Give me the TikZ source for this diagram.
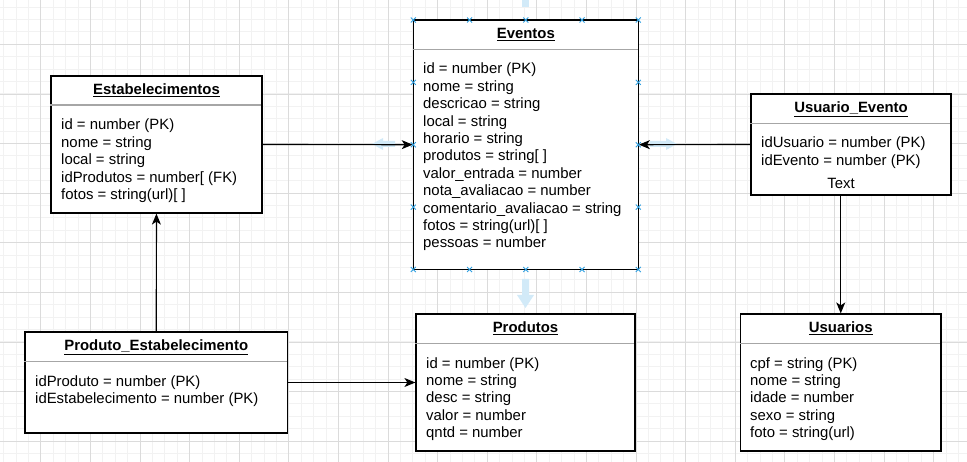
\documentclass[tikz,border=0pt]{standalone}
\usepackage{fontspec}
\setmainfont{Liberation Sans}
\usetikzlibrary{arrows.meta}
\definecolor{hintblue}{HTML}{D2EAF8}
\definecolor{handleblue}{HTML}{2F9FE0}

\begin{document}
\begin{tikzpicture}[
  x=1pt, y=-1pt,
  table/.style={rectangle, draw, fill=white, line width=1.2pt, inner sep=0pt},
  title/.style={anchor=base, inner sep=0pt, font=\fontsize{14.9}{17.4}\selectfont\bfseries},
  fields/.style={anchor=base west, align=left, inner sep=0pt, font=\fontsize{14.9}{17.4}\selectfont},
  sep/.style={draw=gray!70, line width=1.5pt},
  link/.style={-{Stealth[length=11pt,width=9pt,inset=3pt]}, line width=1.2pt},
  hint/.style={fill=hintblue, draw=none},
  handle/.style={draw=handleblue, line width=0.9pt}
]
\useasboundingbox (0,0) rectangle (967,462);

% Grid
\foreach \gx in {3.5,15.9,...,967} \draw[gray!10, line width=0.6pt] (\gx,0) -- (\gx,462);
\foreach \gy in {6.9,19.3,...,462} \draw[gray!10, line width=0.6pt] (0,\gy) -- (967,\gy);
\foreach \gx in {40.7,90.3,...,967} \draw[gray!28, line width=0.6pt] (\gx,0) -- (\gx,462);
\foreach \gy in {-5.3,44.3,...,462} \draw[gray!28, line width=0.6pt] (0,\gy) -- (967,\gy);

% Hover arrows
\fill[hint] (522,0) rectangle (529,7);
\fill[hint] (522,279) -- (529,279) -- (529,295) -- (534,295) -- (525.5,308) -- (517,295) -- (522,295) -- cycle;
\fill[hint] (395,141) -- (383,141) -- (383,138) -- (372,144) -- (383,150) -- (383,147) -- (395,147) -- cycle;
\fill[hint] (650,141) -- (666,141) -- (666,138) -- (677,144) -- (666,150) -- (666,147) -- (650,147) -- cycle;

% Eventos (fields placed at the baseline of their last line)
\node[table, minimum width=225pt, minimum height=249.5pt] (eventos) at (525.8,144.75) {};
\draw[sep] (eventos.north west) ++(0,30) -- ++(225,0);
\node[title] (eventos-title) at (525.8,38.7) {\underline{Eventos}};
\node[fields] (eventos-fields) at (423,248) {id = number (PK)\\nome = string\\descricao = string\\local = string\\horario = string\\produtos = string[ ]\\valor\_entrada = number\\nota\_avaliacao = number\\comentario\_avaliacao = string\\fotos = string(url)[ ]\\pessoas = number};

% Estabelecimentos
\node[table, minimum width=211pt, minimum height=137pt] (estab) at (156.5,144.5) {};
\draw[sep] (estab.north west) ++(0,29.7) -- ++(211,0);
\node[title] (estab-title) at (156.5,94.5) {\underline{Estabelecimentos}};
\node[fields] (estab-fields) at (61,199.6) {id = number (PK)\\nome = string\\local = string\\idProdutos = number[ (FK)\\fotos = string(url)[ ]};

% Usuario_Evento
\node[table, minimum width=200pt, minimum height=101pt] (usuarioevento) at (851,144.5) {};
\draw[sep] (usuarioevento.north west) ++(0,30) -- ++(200,0);
\node[title] (usuarioevento-title) at (851,112.7) {\underline{Usuario\_Evento}};
\node[fields] (usuarioevento-fields) at (761,165.4) {idUsuario = number (PK)\\idEvento = number (PK)};
\node[fields, anchor=base] (usuarioevento-text) at (841,189) {Text};

% Produto_Estabelecimento
\node[table, minimum width=262.5pt, minimum height=101pt] (prodestab) at (156.25,382.5) {};
\draw[sep] (prodestab.north west) ++(0,30) -- ++(262.5,0);
\node[title] (prodestab-title) at (156.25,350.7) {\underline{Produto\_Estabelecimento}};
\node[fields] (prodestab-fields) at (35,403.4) {idProduto = number (PK)\\idEstabelecimento = number (PK)};

% Produtos
\node[table, minimum width=219pt, minimum height=137pt] (produtos) at (525.5,382.5) {};
\draw[sep] (produtos.north west) ++(0,30) -- ++(219,0);
\node[title] (produtos-title) at (525.5,332.7) {\underline{Produtos}};
\node[fields] (produtos-fields) at (426,437.6) {id = number (PK)\\nome = string\\desc = string\\valor = number\\qntd = number};

% Usuarios
\node[table, minimum width=200.5pt, minimum height=137pt] (usuarios) at (840.75,382.5) {};
\draw[sep] (usuarios.north west) ++(0,30) -- ++(200.5,0);
\node[title] (usuarios-title) at (840.75,332.7) {\underline{Usuarios}};
\node[fields] (usuarios-fields) at (750,437.6) {cpf = string (PK)\\nome = string\\idade = number\\sexo = string\\foto = string(url)};

% Connections
\draw[link] (estab) -- (eventos);
\draw[link] (usuarioevento) -- (eventos);
\draw[link] (prodestab) -- (estab);
\draw[link] (prodestab) -- (produtos);
\draw[link] (usuarioevento.south -| usuarios.north) -- (usuarios.north);

% Selection handles
\foreach \hx/\hy in {413.3/20, 469.6/20, 525.8/20, 582/20, 638.3/20,
  413.3/269.5, 469.6/269.5, 525.8/269.5, 582/269.5, 638.3/269.5,
  413.3/82.4, 413.3/144.75, 413.3/207.1, 638.3/82.4, 638.3/144.75, 638.3/207.1}
  \draw[handle] (\hx,\hy) +(-2.5,-2.5) -- +(2.5,2.5) +(-2.5,2.5) -- +(2.5,-2.5);
\end{tikzpicture}
\end{document}
